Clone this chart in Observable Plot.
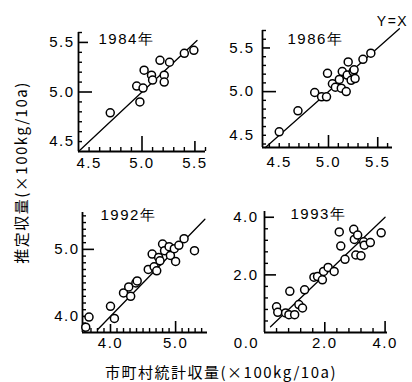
<!DOCTYPE html>
<html><head><meta charset="utf-8">
<script src="https://cdn.jsdelivr.net/npm/d3@7"></script>
<script src="https://cdn.jsdelivr.net/npm/@observablehq/plot@0.6"></script>
<style>
body{margin:0;background:#fff;}
#fig{position:relative;width:412px;height:382px;background:#fff;overflow:hidden;}
#fig svg{position:absolute;}
#fig svg text{letter-spacing:1.5px;}
.ttl{position:absolute;font-family:"Noto Sans CJK JP",sans-serif;font-size:15px;letter-spacing:1.5px;color:#000;white-space:nowrap;line-height:1;}
</style></head><body><div id="fig"></div>
<script>
// ---- data (×100kg/10a): x = 市町村統計収量, y = 推定収量 ----
const years = ["1984年", "1986年", "1992年", "1993年"];

const x1984 = [4.70,4.95,5.01,4.98,5.02,5.09,5.10,5.17,5.21,5.21,5.26,5.40,5.49];
const y1984 = [4.79,5.06,5.04,4.90,5.22,5.17,5.12,5.32,5.17,5.10,5.30,5.39,5.42];

const x1986 = [4.50,4.69,4.86,4.93,4.98,4.99,5.04,5.07,5.11,5.13,5.14,5.18,5.19,5.20,5.23,5.25,5.26,5.27,5.35,5.43];
const y1986 = [4.54,4.78,4.99,4.94,4.94,5.21,5.09,5.05,5.14,5.04,5.23,5.00,5.19,5.34,5.13,5.23,5.25,5.15,5.37,5.44];

const x1992 = [3.62,3.67,4.00,4.06,4.20,4.28,4.31,4.39,4.41,4.58,4.67,4.71,4.64,4.74,4.76,4.80,4.83,4.90,4.92,4.98,5.00,5.05,5.13,5.29];
const y1992 = [3.84,3.99,4.15,3.97,4.35,4.44,4.30,4.50,4.53,4.70,4.74,4.68,4.93,4.88,4.83,5.08,4.98,5.04,4.91,5.01,4.82,5.06,5.16,4.98];

const x1993 = [0.40,0.44,0.70,0.84,0.81,1.00,1.14,1.26,1.33,1.64,1.76,1.92,1.96,2.11,2.31,2.48,2.53,2.67,2.96,2.98,3.09,3.03,3.20,3.29,3.31,3.51,3.87];
const y1993 = [0.89,0.70,0.68,1.43,0.62,0.62,0.97,0.85,1.48,1.92,1.94,1.83,2.12,2.26,2.12,3.49,3.00,2.54,3.58,3.23,3.38,2.69,2.66,3.15,3.03,3.12,3.46];

// tick labels
const ticks1984 = [4.5, 5.0, 5.5];
const ticks1986 = [4.5, 5.0, 5.5];
const ticks1992 = [4.0, 5.0];
const ticks1993x = [2.0, 4.0];
const ticks1993y = [2.0, 4.0];
const origin1993 = [0.0];
const lineLabel = ["Y=X"];
const xTitle = "市町村統計収量(×100kg/10a)";
const yTitle = "推定収量(×100kg/10a)";

// ---- layout ----
const fig = document.getElementById("fig");
const fmt = d3.format(".1f");
function steps(lo, hi, step) {
  const out = [];
  for (let k = Math.ceil(lo / step - 1e-9); k * step <= hi + 1e-9; k++) out.push(+(k * step).toFixed(3));
  return out;
}
const xLabels = (vals, pad, dx = 0) => Plot.text(vals, {x: d => d, text: fmt, frameAnchor: "bottom", lineAnchor: "top", textAnchor: "middle", dy: pad, dx, fontSize: 15, fill: "#000"});
const yLabels = (vals, pad) => Plot.text(vals, {y: d => d, text: fmt, frameAnchor: "left", lineAnchor: "middle", textAnchor: "end", dx: -pad, fontSize: 15, fill: "#000"});

function panel(c) {
  const data = c.xs.map((x, i) => ({x, y: c.ys[i]}));
  const fw = c.w - c.m[0] - c.m[1], fh = c.h - c.m[2] - c.m[3];
  const minorX = steps(c.xd[0], c.xd[1], c.step).filter(v => v > c.xd[0] + 1e-6 && !c.xMaj.some(m => Math.abs(m[0] - v) < 1e-6));
  const minorY = steps(c.yd[0], c.yd[1], c.step).filter(v => v > c.yd[0] + 1e-6 && !c.yMaj.some(m => Math.abs(m[0] - v) < 1e-6));
  const marks = [
    Plot.ruleX([c.xd[0]], {stroke: "#000", strokeWidth: 1.8}),
    Plot.ruleY([c.yd[0]], {stroke: "#000", strokeWidth: 1.8}),
    Plot.tickY(minorY, {y: d => d, insetRight: fw - 4, stroke: "#000", strokeWidth: 1.4}),
    Plot.tickX(minorX, {x: d => d, insetTop: fh - 4, stroke: "#000", strokeWidth: 1.4}),
    ...c.yMaj.map(([v, len]) => Plot.tickY([v], {y: d => d, insetRight: fw - len, stroke: "#000", strokeWidth: 1.6})),
    ...c.xMaj.map(([v, len]) => Plot.tickX([v], {x: d => d, insetTop: fh - len, stroke: "#000", strokeWidth: 1.6})),
    xLabels(c.xLab, c.xPad),
    yLabels(c.yLab, c.yPad),
    Plot.line(c.line.map(v => ({x: v, y: v})), {x: "x", y: "y", stroke: "#000", strokeWidth: 1.3}),
    Plot.dot(data, {x: "x", y: "y", r: 4, fill: "#fff", stroke: "#000", strokeWidth: 1.5}),
    Plot.text([c.year], {frameAnchor: "top-left", textAnchor: "start", lineAnchor: "top", dx: c.yearPos[0], dy: c.yearPos[1], fontSize: 15, fill: "#000"}),
    ...(c.extra || [])
  ];
  const svg = Plot.plot({
    width: c.w, height: c.h,
    marginLeft: c.m[0], marginRight: c.m[1], marginTop: c.m[2], marginBottom: c.m[3],
    x: {domain: c.xd, axis: null},
    y: {domain: c.yd, axis: null},
    style: {fontFamily: "Liberation Sans, Arial, sans-serif"},
    marks
  });
  svg.style.left = c.left + "px";
  svg.style.top = c.top + "px";
  fig.appendChild(svg);
}

panel({xs: x1984, ys: y1984, year: years[0], left: 40, top: 10, w: 180, h: 160, m: [38, 15, 22, 19],
  xd: [4.4, 5.6], yd: [4.4, 5.6], step: 0.1, xMaj: [[5.0, 15], [5.5, 10]], yMaj: [[5.0, 14], [5.5, 10]],
  xLab: ticks1984, yLab: ticks1984, xPad: 6, yPad: 4, line: [4.4, 5.52], yearPos: [20, 1]});

panel({xs: x1986, ys: y1986, year: years[1], left: 220, top: 0, w: 192, h: 170, m: [42, 20, 30, 23],
  xd: [4.33, 5.65], yd: [4.36, 5.7], step: 0.1, xMaj: [[5.0, 12], [5.5, 10]], yMaj: [[5.0, 14], [5.5, 8]],
  xLab: ticks1986, yLab: ticks1986, xPad: 9, yPad: 8, line: [4.36, 5.72], yearPos: [25, 3],
  extra: [Plot.text(lineLabel, {frameAnchor: "top-right", textAnchor: "middle", lineAnchor: "middle", dx: 0, dy: -9, fontSize: 14, fill: "#000"})]});

panel({xs: x1992, ys: y1992, year: years[2], left: 40, top: 190, w: 180, h: 170, m: [42, 13, 22, 28],
  xd: [3.57, 5.49], yd: [3.76, 5.55], step: 0.1, xMaj: [[4.0, 8], [5.0, 11]], yMaj: [[4.0, 6], [5.0, 12]],
  xLab: ticks1992, yLab: ticks1992, xPad: 5, yPad: 3, line: [3.8, 5.45], yearPos: [18, -3]});

panel({xs: x1993, ys: y1993, year: years[3], left: 220, top: 190, w: 192, h: 170, m: [44, 25, 21, 28],
  xd: [0, 4.08], yd: [0, 4.2], step: 0.4, xMaj: [[2.0, 10], [4.0, 11]], yMaj: [[2.0, 12], [4.0, 10]],
  xLab: ticks1993x, yLab: ticks1993y, xPad: 5, yPad: 6, line: [0.2, 4.0], yearPos: [26, -3],
  extra: [xLabels(origin1993, 5, -18)]});

// axis titles
const xt = document.createElement("div");
xt.className = "ttl"; xt.textContent = xTitle;
xt.style.left = "30px"; xt.style.width = "382px"; xt.style.textAlign = "center"; xt.style.top = "364px";
fig.appendChild(xt);
const yt = document.createElement("div");
yt.className = "ttl"; yt.textContent = yTitle;
yt.style.left = "-80px"; yt.style.width = "200px"; yt.style.textAlign = "center";
yt.style.top = "165px"; yt.style.transform = "rotate(-90deg)";
fig.appendChild(yt);
</script></body></html>
